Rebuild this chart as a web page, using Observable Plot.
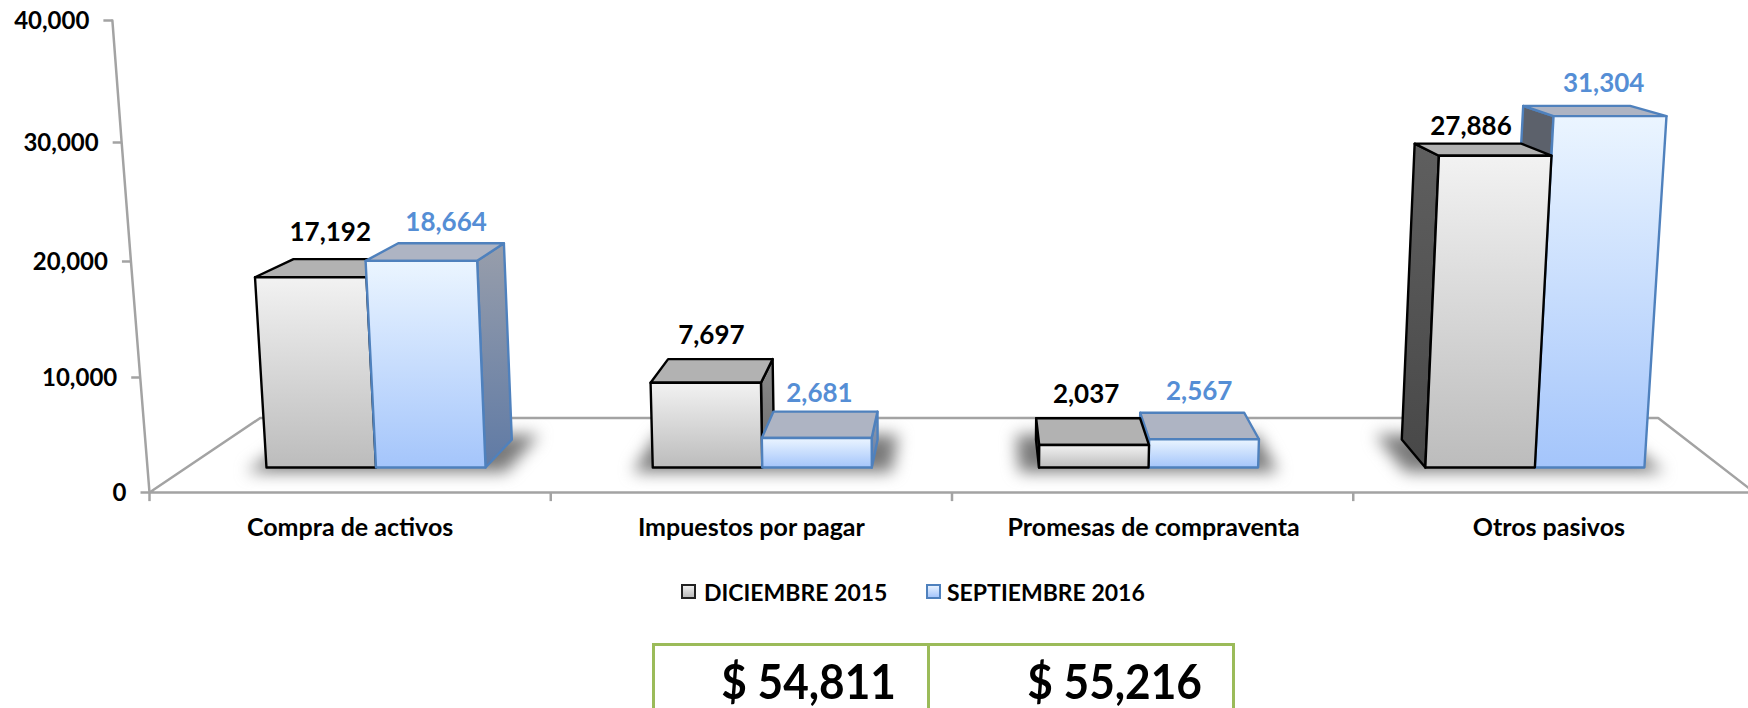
<!DOCTYPE html>
<html><head><meta charset="utf-8">
<script src="https://cdn.jsdelivr.net/npm/d3@7"></script>
<script src="https://cdn.jsdelivr.net/npm/@observablehq/plot@0.6"></script>
<style>
html,body{margin:0;padding:0;background:#fff;overflow:hidden}
#page{position:relative;width:1748px;height:708px;overflow:hidden;font-family:Lato,sans-serif;font-weight:700;color:#000}
#chart{position:absolute;left:0;top:0}
.sw{position:absolute;width:15px;height:15px;box-sizing:border-box;border-width:2px;border-style:solid;top:584px}
.lg{position:absolute;top:578px;font-size:23px;line-height:28px;white-space:nowrap}
#tbl{position:absolute;left:652px;top:643px;width:583px;height:80px;box-sizing:border-box;border:3px solid #9bbb59}
#tbl i{position:absolute;left:272px;top:0;bottom:0;width:3px;background:#9bbb59}
#tbl span{position:absolute;top:7px;font-size:47px;line-height:56px;font-style:normal;transform:scaleX(.94);transform-origin:right center}
</style></head><body>
<div id="page">
  <div id="chart"></div>
  <div class="sw" style="left:681px;background:linear-gradient(#eee,#bbb);border-color:#222"></div>
  <div class="lg" id="l0" style="left:704px"></div>
  <div class="sw" style="left:926px;background:linear-gradient(#e6f1ff,#a6c6fb);border-color:#4f81bd"></div>
  <div class="lg" id="l1" style="left:947px"></div>
  <div id="tbl"><i></i><span id="t0" style="right:336px"></span><span id="t1" style="right:30px"></span></div>
</div>
<script>
// ---- data ----
const categories = ["Compra de activos", "Impuestos por pagar", "Promesas de compraventa", "Otros pasivos"];
const diciembre2015 = [17192, 7697, 2037, 27886];
const septiembre2016 = [18664, 2681, 2567, 31304];
const seriesNames = ["DICIEMBRE 2015", "SEPTIEMBRE 2016"];
const yTicks = [0, 10000, 20000, 30000, 40000];
const totals = ["$ 54,811", "$ 55,216"];

// ---- perspective constants, in data units ----
const VP = {x: 2.073, y: 48000};         // vanishing point of the depth lines
const floorDepth = 0.135, barDepth = 0.053, shadowDepth = 0.07;
const floorBackX = [0.276, 3.76];
const baseV = 2174, heightK = 0.958;     // floor level of bars and height factor
const taperX = 1.96, taperK = 1.04e-6;   // vertical convergence of the bars
const firstBar = 0.2915, barStep = 0.9627, barW = 0.273;
const wallLean = -0.0925;                // x of the axis line at 40,000
const pxX = 1 / 401.25;
const fmt = d3.format(",");

const deep = (p, t) => ({x: p.x + t * (VP.x - p.x), y: p.y + t * (VP.y - p.y)});
const up = (x, v) => { const h = heightK * v; return {x: x + (x - taperX) * taperK * h, y: baseV + h}; };
const wallX = (v) => wallLean * v / 40000;
const closed = (a) => [...a, a[0]];

const grads = {
  gF: ["#f2f2f2", "#bcbcbc"], bF: ["#ebf5ff", "#a4c5fb"],
  gR: ["#8c8c8c", "#6a6a6a"], bR: ["#989eab", "#5f7aa5"],
  gL: ["#5f5f5f", "#484848"], bL: ["#5c616b", "#5c616b"]
};
const style = {
  g: {stroke: "#000", top: "#b2b2b2", label: "#000"},
  b: {stroke: "#4f81bd", top: "#aeb4c3", label: "#558ed5"}
};

function barFaces(l, r, v, s) {
  const A = up(l, 0), B = up(r, 0), C = up(r, v), D = up(l, v);
  const bA = deep(A, barDepth), bB = deep(B, barDepth), bC = deep(C, barDepth), bD = deep(D, barDepth);
  const st = style[s], out = [];
  const face = (pts, fill) => Plot.line(closed(pts), {x: "x", y: "y", fill, stroke: st.stroke, strokeWidth: 2.4, strokeLinejoin: "round"});
  if (r < VP.x) out.push(face([B, C, bC, bB], `url(#${s}R)`));
  else if (l > VP.x) out.push(face([A, D, bD, bA], `url(#${s}L)`));
  out.push(face([D, C, bC, bD], st.top));
  out.push(face([A, B, C, D], `url(#${s}F)`));
  return out;
}

const nudges = [[-16,-26],[-5,-21],[-9,-23],[-6,-18],[-2,-24],[7,-21],[3,-17],[27,-22]];
const categoryNudge = [0, 0, 1, -5];

const floorFront = [{x: 0, y: 0}, {x: 4, y: 0}];
const floorLine = [
  {...deep(floorFront[0], floorDepth), x: floorBackX[0]},
  floorFront[0], floorFront[1],
  {...deep(floorFront[1], floorDepth), x: floorBackX[1]}
];
floorLine.push(floorLine[0]);

const shadows = [], bars = [], labels = [];
categories.forEach((c, i) => {
  const x0 = firstBar + barStep * i, x1 = x0 + barW, x2 = x1 + barW;
  const m = 20 * pxX;
  const S0 = up(x0 - m, -400), S1 = up(x2 + m, -400);
  const sp = [S0, S1, deep(S1, shadowDepth), deep(S0, shadowDepth)];
  shadows.push(Plot.line(closed(sp), {x: "x", y: "y", fill: "#7a7a7a", stroke: "none", imageFilter: "blur(8px)"}));
  const g = barFaces(x0, x1, diciembre2015[i], "g"), b = barFaces(x1, x2, septiembre2016[i], "b");
  if (x1 < VP.x) bars.push(...g, ...b); else bars.push(...b, ...g);
  [[x0, x1, diciembre2015[i], "g", 0], [x1, x2, septiembre2016[i], "b", 1]].forEach(([l, r, v, s, k]) => {
    const P = deep(up((l + r) / 2, v), barDepth), n = nudges[i * 2 + k];
    labels.push(Plot.text([{...P, t: fmt(v)}], {x: "x", y: "y", text: "t", dx: n[0], dy: n[1], fill: style[s].label,
      fontFamily: "Lato", fontWeight: 700, fontSize: 26}));
  });
});

const defs = () => {
  const g = d3.create("svg:g"), d = g.append("defs");
  for (const [id, [a, b]] of Object.entries(grads)) {
    const lg = d.append("linearGradient").attr("id", id).attr("x1", 0).attr("x2", 0).attr("y1", 0).attr("y2", 1);
    lg.append("stop").attr("offset", 0).attr("stop-color", a);
    lg.append("stop").attr("offset", 1).attr("stop-color", b);
  }
  return g.node();
};

const axisStyle = {stroke: "#a3a3a3", strokeWidth: 2.5};
const chart = Plot.plot({
  width: 1748, height: 570,
  margin: 0,
  x: {type: "linear", domain: [0, 4], range: [149, 1754], axis: null},
  y: {type: "linear", domain: yTicks, range: [492, 377, 261, 142, 20], axis: null},
  marks: [
    defs,
    ...shadows,
    Plot.line(floorLine, {x: "x", y: "y", ...axisStyle, strokeLinejoin: "miter"}),
    // value axis
    Plot.line(yTicks, {x: wallX, y: d => d, ...axisStyle}),
    Plot.link(yTicks, {x1: d => wallX(d) - 9 * pxX, x2: wallX, y1: d => d, y2: d => d, ...axisStyle}),
    Plot.text(yTicks, {x: wallX, y: d => d, text: fmt, textAnchor: "end", dx: -23, dy: 1,
      fontFamily: "Lato", fontWeight: 700, fontSize: 24, fill: "#000"}),
    // category axis
    Plot.link(d3.range(categories.length), {x1: d => d, x2: d => d, y1: 0, y2: -750, ...axisStyle}),
    Plot.text(categories, {x: (d, i) => i + 0.5 + categoryNudge[i] * pxX, y: -3050, text: d => d,
      fontFamily: "Lato", fontWeight: 700, fontSize: 25, fill: "#000"}),
    ...bars,
    ...labels
  ]
});
document.getElementById("chart").append(chart);
document.getElementById("l0").textContent = seriesNames[0];
document.getElementById("l1").textContent = seriesNames[1];
document.getElementById("t0").textContent = totals[0];
document.getElementById("t1").textContent = totals[1];
</script>
</body></html>
